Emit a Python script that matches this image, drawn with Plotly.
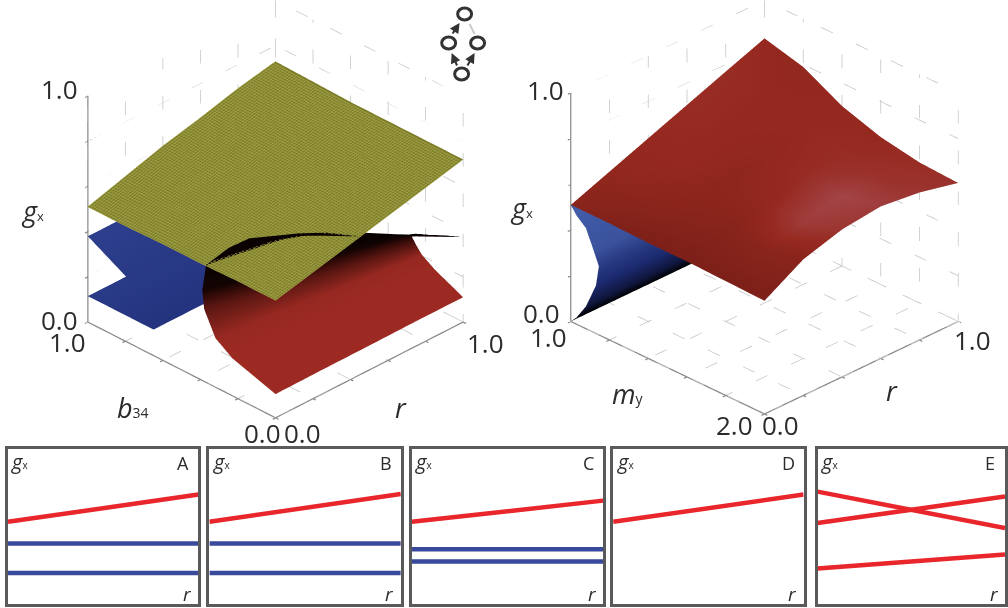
import plotly.graph_objects as go

W, H = 1008, 608
ticks = [0, .2, .4, .6, .8, 1]

# ---------- left 3-D chart ----------
r_yel = [0, .2, .4, .6, .8, 1]
b_yel = [0, .2, .4, .6, .8, 1]
g_yel = [
    [.52, .56, .60, .64, .68, .72],
    [.52, .56, .605, .645, .685, .72],
    [.515, .56, .605, .645, .685, .72],
    [.515, .56, .605, .65, .69, .72],
    [.51, .56, .605, .65, .69, .725],
    [.51, .56, .61, .65, .695, .73],
]
r_fold = [0, .25, .5, .75, 1]
b_fold = [
    [0, .23, .32, .38, .39, .37, .25, .14, 0],
    [0, .21, .30, .35, .365, .345, .235, .13, 0],
    [0, .19, .27, .32, .335, .315, .22, .12, 0],
    [0, .17, .24, .285, .31, .285, .20, .105, 0],
    [0, .15, .22, .25, .28, .25, .18, .09, 0],
]
g_fold = [
    [.105, .166, .217, .32, .40, .52, .646, .735, .805],
    [.107, .165, .215, .29, .36, .47, .58, .655, .70],
    [.108, .165, .21, .265, .33, .42, .50, .56, .59],
    [.11, .165, .21, .25, .30, .35, .40, .45, .485],
    [.11, .168, .205, .235, .27, .285, .31, .345, .376],
]
shade_fold = [1, 1, .95, .55, .06, 0, 0, 0, 0]
r_blue = [0, 1]
b_blue_up = [.78, 1]
g_blue_up = [[.28, .28], [.38, .38]]
b_blue_lo = [.65, 1]
g_blue_lo = [[.115, .115], [.115, .115]]

# ---------- right 3-D chart ----------
r_right = [0, .2, .4, .6, .8, 1]
m_right = [1, 1.2, 1.4, 1.6, 1.8, 2]
g_right = [
    [.51, .575, .64, .705, .77, .834],
    [.51, .56, .62, .68, .735, .79],
    [.505, .555, .60, .645, .68, .70],
    [.505, .55, .59, .63, .65, .645],
    [.50, .555, .60, .63, .63, .615],
    [.495, .595, .645, .665, .645, .606],
]
shade_right = [
    [.35, .45, .5, .55, .55, .5],
    [.25, .4, .5, .5, .5, .45],
    [.2, .35, .4, .45, .5, .5],
    [.2, .3, .45, .55, .55, .5],
    [.2, .35, .75, .85, .6, .55],
    [.2, .35, .65, .75, .65, .6],
]
r_bright = [0, .5, 1]
m_bright = [
    [1, 1.03, 1.078, 1.12, 1.145, 1.13, 1.078, 1.03, 1],
    [1, 1.03, 1.078, 1.12, 1.145, 1.13, 1.078, 1.03, 1],
    [1, 1.03, 1.078, 1.12, 1.145, 1.13, 1.078, 1.03, 1],
]
g_bright = [
    [.51, .475, .44, .354, .30, .21, .097, .03, 0],
    [.55, .50, .45, .36, .30, .21, .10, .03, 0],
    [.60, .52, .46, .37, .30, .21, .10, .03, 0],
]
shade_bright = [.95, .95, .9, .85, .6, .4, .22, .05, 0]

# ---------- small panels ----------
panel_names = ["A", "B", "C", "D", "E"]
panel_x = [0, 1]
panel_red = [
    [[.53, .706]],
    [[.53, .71]],
    [[.53, .667]],
    [[.53, .706]],
    [[.725, .49], [.523, .693], [.229, .32]],
]
panel_blue = [
    [[.39, .39], [.20, .20]],
    [[.39, .39], [.20, .20]],
    [[.353, .353], [.275, .275]],
    [],
    [],
]

FONT = "Open Sans"
fig = go.Figure()


def surf(scene, x, y, z, c, cs, mesh=None):
    extra = {}
    if mesh:
        extra["contours"] = dict(
            x=dict(show=True, start=0, end=1, size=.0125, color=mesh, width=1),
            y=dict(show=True, start=0, end=1, size=.0125, color=mesh, width=1),
        )
    fig.add_surface(
        x=x, y=y, z=z, surfacecolor=c, colorscale=cs, cmin=0, cmax=1, showscale=False,
        scene=scene, hoverinfo="skip",
        lighting=dict(ambient=1, diffuse=0, specular=0, fresnel=0, roughness=1), **extra,
    )


def lines(scene, segs, color, width, dash="solid"):
    xs, ys, zs = [], [], []
    for a, b in segs:
        xs += [a[0], b[0], None]
        ys += [a[1], b[1], None]
        zs += [a[2], b[2], None]
    fig.add_scatter3d(x=xs, y=ys, z=zs, mode="lines", scene=scene, hoverinfo="skip",
                      showlegend=False, line=dict(color=color, width=width, dash=dash))


def frame(scene, ylo, yhi, g_color="#8a8a8a"):
    ytick = [ylo + t * (yhi - ylo) for t in ticks]
    grid = []
    for t, yy in zip(ticks, ytick):
        grid.append(((t, yhi, 0), (t, yhi, 1)))        # back-left wall verticals
        grid.append(((0, yhi, t), (1, yhi, t)))        # back-left wall horizontals
        grid.append(((1, yy, 0), (1, yy, 1)))
        grid.append(((1, ylo, t), (1, yhi, t)))
        grid.append(((t, ylo, 0), (t, yhi, 0)))        # floor
        grid.append(((0, yy, 0), (1, yy, 0)))
    lines(scene, grid, "#c4c4c4", 1.5, "dot")
    ax = [((0, yhi, 0), (0, yhi, 1)), ((0, ylo, 0), (0, yhi, 0)), ((0, ylo, 0), (1, ylo, 0))]
    d = (yhi - ylo) * .015
    for t, yy in zip(ticks, ytick):
        ax.append(((0, yhi, t), (-.015, yhi, t)))
        ax.append(((0, yy, 0), (-.015, yy, 0)))
        ax.append(((t, ylo, 0), (t, ylo - d, 0)))
    lines(scene, ax, g_color, 2.5)


# left chart
frame("scene", 0, 1)
cs_yel = [[0, "#6f6f22"], [1, "#8d8d30"]]
surf("scene", r_yel, b_yel, g_yel, [[.55] * 6] * 6, cs_yel, mesh="#a8a850")
cs_red = [[0, "#0a0202"], [.3, "#3a0d0a"], [1, "#9c2a22"]]
surf("scene", [[r] * 9 for r in r_fold], b_fold, g_fold, [shade_fold] * 5, cs_red)
cs_blue = [[0, "#1c2a72"], [1, "#2f4190"]]
surf("scene", r_blue, b_blue_up, g_blue_up, [[.6, .6], [.9, .9]], cs_blue)
surf("scene", r_blue, b_blue_lo, g_blue_lo, [[.4, .4], [.7, .7]], cs_blue)

# right chart
frame("scene2", 2, 1)
cs_rr = [[0, "#6c1a14"], [.5, "#96291f"], [1, "#a85058"]]
surf("scene2", r_right, m_right, g_right, shade_right, cs_rr)
cs_br = [[0, "#000000"], [.4, "#1c2a70"], [1, "#4560ac"]]
surf("scene2", [[r] * 9 for r in r_bright], m_bright, g_bright, [shade_bright] * 3, cs_br)

# panels
boxes = [(8, 199), (210, 402), (413, 605), (615, 806), (820, 1008)]
Y0, Y1 = 449, 604
layout_axes = {}
annots = []


def txt(x, y, s, size=26, anchor="center", color="#2b2b2b"):
    annots.append(dict(x=x / W, y=1 - y / H, xref="paper", yref="paper", text=s, showarrow=False,
                       xanchor=anchor, yanchor="middle", font=dict(family=FONT, size=size, color=color)))


def gx(x, y, size=27):
    txt(x, y, f"<i>g</i><span style='font-size:{int(size*.5)}px'>x</span>", size)


for i, (name, (x0, x1)) in enumerate(zip(panel_names, boxes)):
    k = "" if i == 0 else str(i + 1)
    for vals in panel_blue[i]:
        fig.add_scatter(x=panel_x, y=vals, mode="lines", xaxis="x" + k, yaxis="y" + k, showlegend=False,
                        hoverinfo="skip", line=dict(color="#39499b", width=4.5))
    for vals in panel_red[i]:
        fig.add_scatter(x=panel_x, y=vals, mode="lines", xaxis="x" + k, yaxis="y" + k, showlegend=False,
                        hoverinfo="skip", line=dict(color="#e8262b", width=4.5))
    base = dict(range=[0, 1], showgrid=False, zeroline=False, showticklabels=False, ticks="",
                showline=True, mirror=True, linecolor="#5a5a5a", linewidth=2.5, fixedrange=True)
    layout_axes["xaxis" + k] = dict(base, domain=[x0 / W, x1 / W], anchor="y" + k)
    layout_axes["yaxis" + k] = dict(base, domain=[1 - Y1 / H, 1 - Y0 / H], anchor="x" + k)
    gx(x0 + 12, 461, 20)
    txt(x1 - 15, 463, name, 18)
    txt(x1 - 11, 594, "<i>r</i>", 19)

# 3-D labels
for x, y, s in [(60, 89, "1.0"), (60, 320, "0.0"), (68, 342, "1.0"), (263, 433, "0.0"), (303, 433, "0.0"),
                (487, 343, "1.0"), (547, 90, "1.0"), (543, 313, "0.0"), (550, 337, "1.0"), (737, 425, "2.0"),
                (783, 425, "0.0"), (975, 340, "1.0")]:
    txt(x, y, s, 26)
gx(33, 210)
gx(523, 208)
txt(133, 407, "<i>b</i><span style='font-size:14px'>34</span>", 27)
txt(402, 407, "<i>r</i>", 27)
txt(630, 393, "<i>m</i><span style='font-size:14px'>y</span>", 27)
txt(895, 390, "<i>r</i>", 27)

# motif glyph
shapes = [dict(type="line", xref="paper", yref="paper", x0=471 / W, x1=476 / W, y0=1 - 24 / H, y1=1 - 34 / H,
               line=dict(color="#cccccc", width=2))]
nodes = [(466, 14), (450, 43), (479, 43), (463, 74)]
for cx, cy in nodes:
    shapes.append(dict(type="circle", xref="paper", yref="paper", x0=(cx - 7) / W, x1=(cx + 7) / W,
                       y0=1 - (cy + 6) / H, y1=1 - (cy - 6) / H, line=dict(color="#333", width=3), fillcolor="white"))
for (x1, y1), (x2, y2) in [((453, 35), (461, 23)), ((459, 67), (453, 53)), ((468, 67), (476, 53))]:
    annots.append(dict(x=x2 / W, y=1 - y2 / H, ax=x1 - x2, ay=y1 - y2, xref="paper", yref="paper",
                       axref="pixel", ayref="pixel", text="", showarrow=True, arrowhead=2, arrowsize=1,
                       arrowwidth=2, arrowcolor="#333"))

none_axis = dict(visible=False, showgrid=False, zeroline=False, showspikes=False)
cam = dict(eye=dict(x=-.989, y=-.989, z=.83), up=dict(x=0, y=0, z=1), center=dict(x=0, y=0, z=0),
           projection=dict(type="orthographic"))
cam2 = dict(eye=dict(x=-.989, y=-.989, z=.76), up=dict(x=0, y=0, z=1), center=dict(x=0, y=0, z=0),
            projection=dict(type="orthographic"))
fig.update_layout(
    width=W, height=H, margin=dict(l=0, r=0, t=0, b=0), paper_bgcolor="white", plot_bgcolor="white",
    showlegend=False, annotations=annots, shapes=shapes,
    scene=dict(domain=dict(x=[40 / W, 512 / W], y=[1 - 422 / H, 1]),
               xaxis=dict(none_axis, range=[-.02, 1]), yaxis=dict(none_axis, range=[-.02, 1]),
               zaxis=dict(none_axis, range=[0, 1]),
               aspectmode="manual", aspectratio=dict(x=1.283, y=1.283, z=1.245), camera=cam, bgcolor="rgba(0,0,0,0)"),
    scene2=dict(domain=dict(x=[531 / W, 1003 / W], y=[1 - 418 / H, 1]),
                xaxis=dict(none_axis, range=[-.02, 1]), yaxis=dict(none_axis, range=[2.02, 1]),
                zaxis=dict(none_axis, range=[0, 1]),
                aspectmode="manual", aspectratio=dict(x=1.337, y=1.337, z=1.245), camera=cam2, bgcolor="rgba(0,0,0,0)"),
    **layout_axes,
)
fig.write_html("out.html", post_script="document.body.style.margin='0';", config=dict(displayModeBar=False))
